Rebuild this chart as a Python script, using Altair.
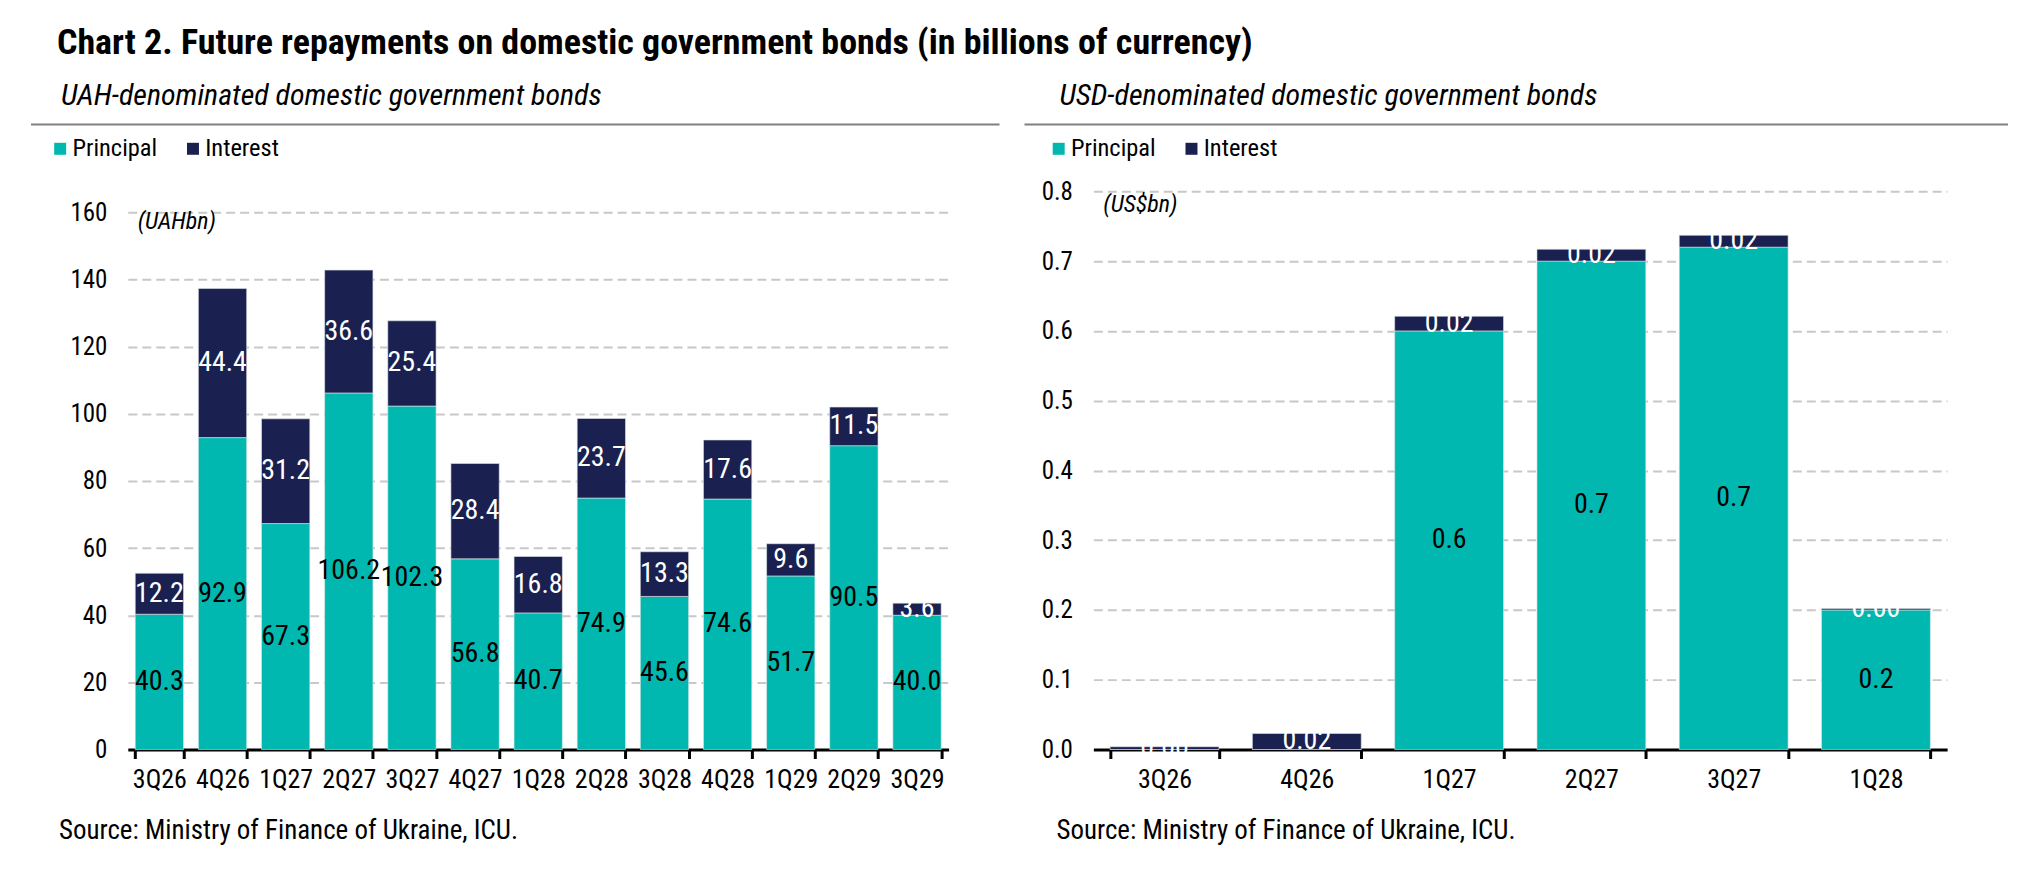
import altair as alt
import pandas as pd

FONT = "Liberation Sans Narrow, Roboto Condensed, DejaVu Sans Condensed, Liberation Sans, sans-serif"
TEAL = "#00B8B0"
NAVY = "#1A2150"

uah_quarters = ["3Q26", "4Q26", "1Q27", "2Q27", "3Q27", "4Q27", "1Q28",
                "2Q28", "3Q28", "4Q28", "1Q29", "2Q29", "3Q29"]
uah_principal = [40.3, 92.9, 67.3, 106.2, 102.3, 56.8, 40.7, 74.9, 45.6, 74.6, 51.7, 90.5, 40.0]
uah_interest = [12.2, 44.4, 31.2, 36.6, 25.4, 28.4, 16.8, 23.7, 13.3, 17.6, 9.6, 11.5, 3.6]
uah_ticks = [0, 20, 40, 60, 80, 100, 120, 140, 160]

usd_quarters = ["3Q26", "4Q26", "1Q27", "2Q27", "3Q27", "1Q28"]
usd_principal = [0.0, 0.0, 0.60, 0.70, 0.72, 0.20]
usd_interest = [0.004, 0.023, 0.021, 0.017, 0.017, 0.002]
usd_ticks = [0.0, 0.1, 0.2, 0.3, 0.4, 0.5, 0.6, 0.7, 0.8]

TITLE = "Chart 2. Future repayments on domestic government bonds (in billions of currency)"
SOURCE = "Source: Ministry of Finance of Ukraine, ICU."


def panel(quarters, principal, interest, ticks, ymax, yfmt, pfmt, ifmt, width,
          subtitle, unit, unit_y, sub_x, rule_x1, rule_x2, legend_x, source_x):
    H = 559
    df = pd.DataFrame({"quarter": quarters, "Principal": principal, "Interest": interest})
    base = alt.Chart(df)
    xenc = alt.X("quarter:N", sort=quarters,
                 scale=alt.Scale(paddingInner=0.235, paddingOuter=0.1175),
                 axis=alt.Axis(title=None, labelAngle=0, domainColor="black", domainWidth=3,
                               tickColor="black", tickWidth=3, tickSize=9, tickBand="extent",
                               labelFontSize=26, labelColor="black", labelPadding=8, grid=False))
    yscale = alt.Scale(domain=[0, ymax], nice=False, zero=True)
    bars = base.transform_fold(["Principal", "Interest"], as_=["series", "value"]).transform_calculate(
        ord="datum.series === 'Principal' ? 0 : 1"
    ).mark_bar(stroke="#dfe6e6", strokeWidth=0.6).encode(
        x=xenc,
        y=alt.Y("value:Q", stack="zero", scale=yscale,
                axis=alt.Axis(title=None, values=ticks, format=yfmt, grid=True,
                              gridDash=[9, 5], gridColor="#c8c8c8", gridWidth=2,
                              domain=False, ticks=False, labelFontSize=25,
                              labelColor="black", labelPadding=21)),
        color=alt.Color("series:N",
                        scale=alt.Scale(domain=["Principal", "Interest"], range=[TEAL, NAVY]),
                        legend=alt.Legend(title=None, orient="none", legendX=legend_x, legendY=-55,
                                          direction="horizontal", symbolType="square",
                                          symbolSize=144, symbolStrokeWidth=0,
                                          labelFontSize=24.5, labelColor="black", labelOffset=0,
                                          columnPadding=23, padding=0)),
        order=alt.Order("ord:Q", sort="ascending"),
    )
    plab = base.transform_filter("datum.Principal > 0").transform_calculate(
        ymid="datum.Principal / 2"
    ).mark_text(fontSize=28, color="black").encode(
        x=alt.X("quarter:N", sort=quarters),
        y=alt.Y("ymid:Q", scale=yscale),
        text=alt.Text("Principal:Q", format=pfmt),
    )
    ilab = base.transform_calculate(
        ymid="datum.Principal + datum.Interest / 2"
    ).mark_text(fontSize=28, color="white").encode(
        x=alt.X("quarter:N", sort=quarters),
        y=alt.Y("ymid:Q", scale=yscale),
        text=alt.Text("Interest:Q", format=ifmt),
    )
    one = pd.DataFrame({"sub": [subtitle], "unit": [unit], "src": [SOURCE]})
    deco = alt.Chart(one)
    sub = deco.mark_text(fontSize=30, fontStyle="italic", align="left", baseline="alphabetic",
                         color="black").encode(x=alt.value(sub_x), y=alt.value(-86), text="sub:N")
    rule = deco.mark_rule(color="#808080", strokeWidth=2).encode(
        x=alt.value(rule_x1), x2=alt.value(rule_x2), y=alt.value(-67))
    unit_t = deco.mark_text(fontSize=24, fontStyle="italic", align="left", baseline="alphabetic",
                            color="black").encode(x=alt.value(10), y=alt.value(unit_y), text="unit:N")
    src = deco.mark_text(fontSize=27, align="left", baseline="alphabetic", color="black").encode(
        x=alt.value(source_x), y=alt.value(649), text="src:N")
    return alt.layer(bars, plab, ilab, sub, rule, unit_t, src).properties(width=width, height=H)


left = panel(uah_quarters, uah_principal, uah_interest, uah_ticks, 166.25, "d", ".1f", ".1f", 822,
             "UAH-denominated domestic government bonds", "(UAHbn)", 38,
             -67, -97, 873, -80, -69)
right = panel(usd_quarters, usd_principal, usd_interest, usd_ticks, 0.8, ".1f", ".1f", ".2f", 855,
              "USD-denominated domestic government bonds", "(US$bn)", 21,
              -34, -69, 916, -47, -37)

chart = alt.hconcat(left, right, spacing=23).resolve_scale(color="independent").resolve_legend(
    color="independent"
).properties(
    title=alt.TitleParams(TITLE, anchor="start", fontSize=36, fontWeight="bold", font=FONT,
                          color="black", offset=20, dx=27),
    padding={"left": 22, "top": 16, "right": 5, "bottom": 5},
).configure(font=FONT).configure_view(stroke=None)

chart.save("out.html", embed_options={"renderer": "svg", "actions": False})
